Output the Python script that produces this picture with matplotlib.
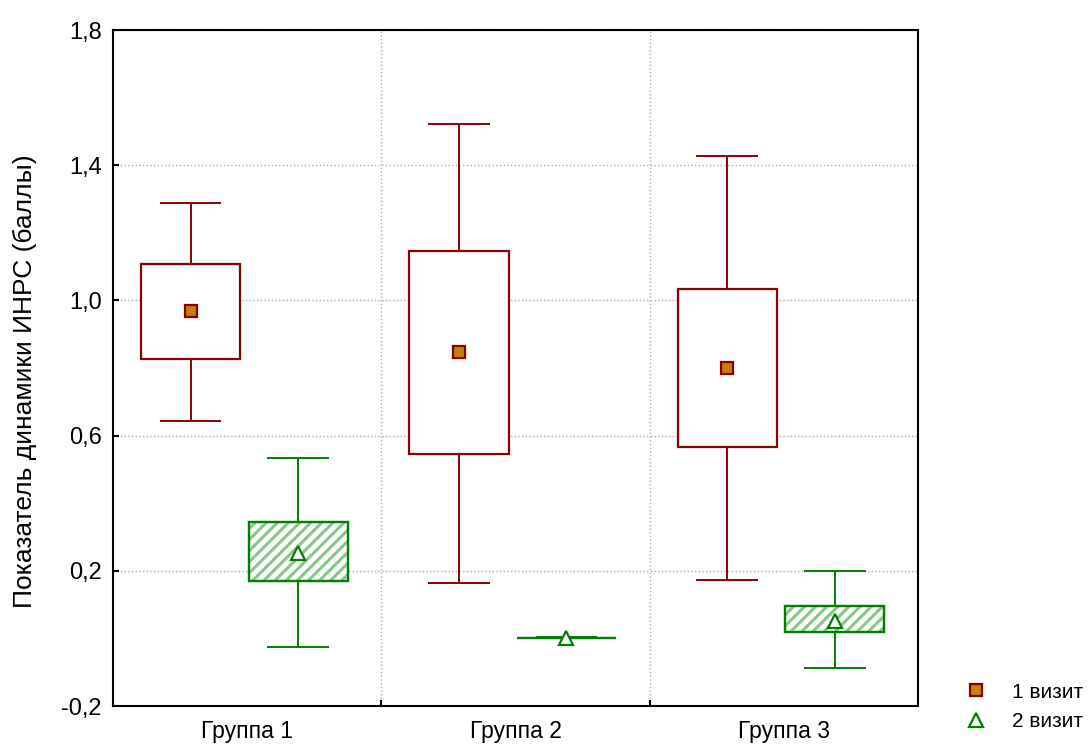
import numpy as np
import matplotlib.pyplot as plt
from matplotlib.lines import Line2D

plt.rcParams['font.family'] = ['Liberation Sans', 'DejaVu Sans']
plt.rcParams['hatch.linewidth'] = 2.2

groups = ['Группа 1', 'Группа 2', 'Группа 3']

# 1 визит
v1_mean = [0.969, 0.847, 0.800]
v1_box_lo = [0.827, 0.546, 0.567]
v1_box_hi = [1.108, 1.146, 1.034]
v1_wh_lo = [0.643, 0.164, 0.173]
v1_wh_hi = [1.288, 1.522, 1.427]

# 2 визит
v2_mean = [0.253, 0.000, 0.051]
v2_box_lo = [0.170, 0.002, 0.019]
v2_box_hi = [0.344, 0.002, 0.096]
v2_wh_lo = [-0.025, 0.000, -0.088]
v2_wh_hi = [0.534, 0.005, 0.200]

red = '#8c0000'
green = '#008000'

fig = plt.figure(figsize=(10.88, 7.47), dpi=100)
ax = fig.add_axes([113 / 1088, 1 - 706 / 747, 805 / 1088, 676 / 747])

x = np.arange(len(groups))
bw = 0.37
cap = 0.23


def draw(xs, lo, hi, wlo, whi, mean, col, hatch, hcol, marker, mfc, ms):
    ax.vlines(xs, wlo, whi, color=col, lw=1.4, zorder=2)
    ax.hlines(wlo, xs - cap / 2, xs + cap / 2, color=col, lw=1.4, zorder=2)
    ax.hlines(whi, xs - cap / 2, xs + cap / 2, color=col, lw=1.4, zorder=2)
    h = np.array(hi) - np.array(lo)
    ax.bar(xs, h, bottom=lo, width=bw, facecolor='white', edgecolor=col,
           lw=1.6, zorder=3)
    if hatch:
        ax.bar(xs, h, bottom=lo, width=bw, facecolor='none', edgecolor=hcol,
               lw=0, hatch=hatch, zorder=3)
        ax.bar(xs, h, bottom=lo, width=bw, facecolor='none', edgecolor=col,
               lw=1.6, zorder=3)
    ax.plot(xs, mean, ls='none', marker=marker, ms=ms,
            mfc=mfc, mec=col, mew=1.6, zorder=4)


draw(x - 0.211, v1_box_lo, v1_box_hi, v1_wh_lo, v1_wh_hi, v1_mean,
     red, None, None, 's', '#c8800a', 8)
draw(x + 0.19, v2_box_lo, v2_box_hi, v2_wh_lo, v2_wh_hi, v2_mean,
     green, '///', '#86c686', '^', 'white', 10.5)

ax.set_xlim(-0.5, 2.5)
ax.set_ylim(-0.2, 1.8)
ax.set_yticks([-0.2, 0.2, 0.6, 1.0, 1.4, 1.8])
ax.set_yticklabels(['-0,2', '0,2', '0,6', '1,0', '1,4', '1,8'])
ax.set_xticks(x)
ax.set_xticklabels(groups)
ax.set_xticks([0.5, 1.5], minor=True)
ax.tick_params(axis='x', which='major', length=0, pad=10, labelsize=16.5)
ax.tick_params(axis='x', which='minor', direction='in', length=4, width=1.5)
ax.tick_params(axis='y', direction='in', length=4, width=1.5, labelsize=17, pad=8)
ax.grid(axis='y', which='major', ls=':', color='#aaaaaa', lw=1)
ax.grid(axis='x', which='minor', ls=':', color='#aaaaaa', lw=1)
ax.set_axisbelow(True)
for s in ax.spines.values():
    s.set_linewidth(1.5)
ax.set_ylabel('Показатель динамики ИНРС (баллы)', fontsize=19)
ax.yaxis.set_label_coords(-0.095, 0.481)

handles = [
    Line2D([], [], ls='none', marker='s', ms=8, mfc='#c8800a', mec=red, mew=1.6),
    Line2D([], [], ls='none', marker='^', ms=10.5, mfc='white', mec=green, mew=1.6),
]
fig.legend(handles, ['1 визит', '2 визит'], loc='lower right',
           bbox_to_anchor=(1.009, 0.002), frameon=False, fontsize=15,
           handlelength=1.5, handletextpad=1.0, labelspacing=0.5,
           borderpad=0.2)

fig.savefig('out.png', dpi=100)
